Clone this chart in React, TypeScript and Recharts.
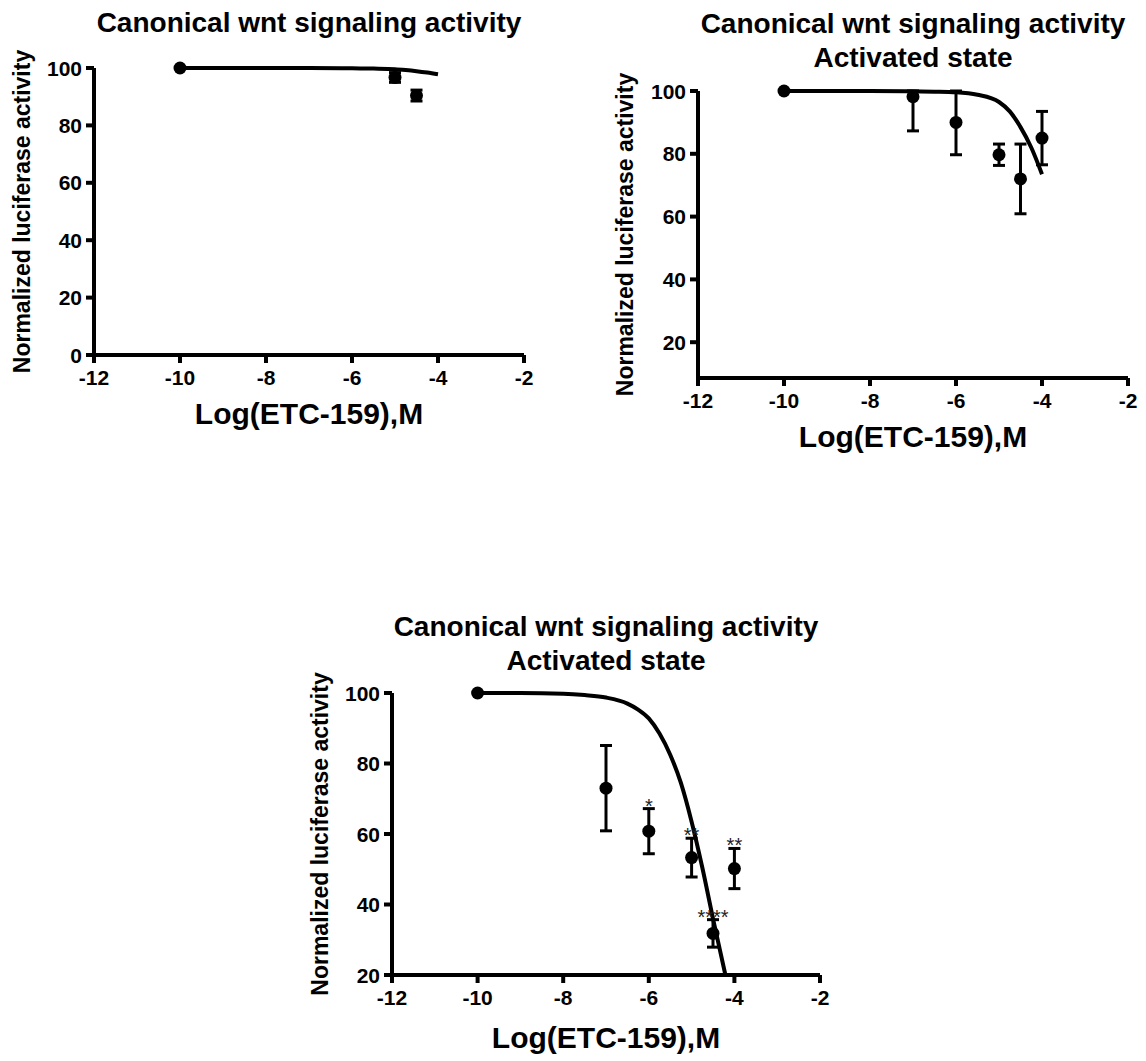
import { ComposedChart, Line, Scatter, XAxis, YAxis, ErrorBar, Label } from 'recharts';

const FONT = '"Liberation Sans", Arial, Helvetica, sans-serif';

const xTicks = [-12, -10, -8, -6, -4, -2];
const xLabel = 'Log(ETC-159),M';
const yLabel = 'Normalized luciferase activity';
const titleMain = 'Canonical wnt signaling activity';
const titleSub = 'Activated state';

// panel 1 – basal state
const basalDose = [-10, -5, -4.5];
const basalMean = [100, 96.7, 90.4];
const basalErr = [0, 1.7, 1.9];
const basalFitDose = [-10, -9, -8, -7, -6, -5.5, -5, -4.75, -4.5, -4.25, -4];
const basalFitValue = [100, 100, 100, 100, 99.9, 99.8, 99.6, 99.3, 98.9, 98.4, 97.8];

// panel 2 – activated state
const actDose = [-10, -7, -6, -5, -4.5, -4];
const actMean = [100, 98.2, 90, 79.7, 72, 85];
const actErrLow = [0, 10.9, 10.3, 3.4, 11.1, 8.5];
const actErrHigh = [0, 1.8, 10, 3.4, 11.1, 8.5];
const actFitDose = [-10, -9, -8, -7, -6.5, -6, -5.5, -5, -4.75, -4.5, -4.25, -4];
const actFitValue = [100, 100, 100, 99.9, 99.8, 99.6, 98.8, 96.5, 93.5, 88.5, 82, 73.5];

// panel 3 – activated state, second experiment
const inhDose = [-10, -7, -6, -5, -4.5, -4];
const inhMean = [100, 73, 60.8, 53.3, 31.8, 50.2];
const inhErr = [0, 12.1, 6.4, 5.5, 3.9, 5.7];
const inhSig = ['', '', '*', '**', '****', '**'];
const inhFitDose = [-10, -9, -8, -7.5, -7, -6.5, -6.25, -6, -5.75, -5.5, -5.25, -5, -4.75, -4.5, -4.21];
const inhFitValue = [100, 100, 99.8, 99.4, 98.7, 97, 95.3, 92.8, 88.5, 82.5, 74.5, 63.5, 50.5, 36, 20];

const toLine = (xs: number[], ys: number[]) => xs.map((x, i) => ({ x, y: ys[i] }));

const basalPoints = basalDose.map((x, i) => ({ x, y: basalMean[i], err: basalErr[i] }));
const actPoints = actDose.map((x, i) => ({ x, y: actMean[i], err: [actErrLow[i], actErrHigh[i]] }));
const inhPoints = inhDose.map((x, i) => ({ x, y: inhMean[i], err: inhErr[i] }));
const inhStars = inhDose
  .map((x, i) => ({ x, y: inhMean[i] + inhErr[i], sig: inhSig[i] }))
  .filter((d) => d.sig);

const Dot = (p: any) => <circle cx={p.cx} cy={p.cy} r={6.5} fill="#000" />;
const Star = (p: any) => (
  <text x={p.cx} y={p.cy + 4} textAnchor="middle" fontSize={20} fill="#222" fontFamily={FONT}>
    {p.payload.sig}
  </text>
);

// tick text drawn by hand so the size sticks
const XTick = (p: any) => (
  <text x={p.x} y={p.y} dy={16} textAnchor="middle" fontSize={21} fontWeight="bold" fill="#000" fontFamily={FONT}>
    {p.payload.value}
  </text>
);
const YTick = (p: any) => (
  <text x={p.x} y={p.y} dy={7.5} textAnchor="end" fontSize={21} fontWeight="bold" fill="#000" fontFamily={FONT}>
    {p.payload.value}
  </text>
);

const axisStroke = { stroke: '#000', strokeWidth: 4 };

function Title({ lines, cx, top }: { lines: string[]; cx: number; top: number }) {
  return (
    <div
      style={{
        position: 'absolute',
        left: cx - 300,
        top,
        width: 600,
        textAlign: 'center',
        fontFamily: FONT,
        fontWeight: 'bold',
        fontSize: 28,
        lineHeight: '34px',
        color: '#000',
      }}
    >
      {lines.map((l) => (
        <div key={l}>{l}</div>
      ))}
    </div>
  );
}

interface PanelProps {
  left: number;
  top: number;
  width: number;
  height: number;
  marginTop: number;
  marginRight: number;
  yAxisWidth: number;
  xAxisHeight: number;
  yLabelOffset: number;
  xLabelOffset: number;
  yDomain: [number, number];
  yTicks: number[];
  fit: { x: number; y: number }[];
  points: any[];
  stars?: any[];
}

function DosePanel(props: PanelProps) {
  const { left, top, width, height, marginTop, marginRight, yAxisWidth, xAxisHeight } = props;
  return (
    <div style={{ position: 'absolute', left, top, width, height }}>
      <ComposedChart width={width} height={height} margin={{ top: marginTop, right: marginRight, left: 0, bottom: 0 }}>
        <XAxis
          type="number"
          dataKey="x"
          domain={[-12, -2]}
          ticks={xTicks}
          interval={0}
          height={xAxisHeight}
          tickSize={8}
          tickMargin={6}
          axisLine={axisStroke}
          tickLine={axisStroke}
          tick={<XTick />}
        >
          <Label
            value={xLabel}
            position="insideBottom"
            offset={props.xLabelOffset}
            fontSize={30}
            style={{ fontSize: 30, fontWeight: 'bold', fill: '#000', fontFamily: FONT }}
          />
        </XAxis>
        <YAxis
          type="number"
          dataKey="y"
          domain={props.yDomain}
          ticks={props.yTicks}
          interval={0}
          width={yAxisWidth}
          tickSize={8}
          tickMargin={4}
          axisLine={axisStroke}
          tickLine={axisStroke}
          tick={<YTick />}
        >
          <Label
            value={yLabel}
            position="insideLeft"
            angle={-90}
            offset={props.yLabelOffset}
            fontSize={23}
            style={{ fontSize: 23, fontWeight: 'bold', fill: '#000', fontFamily: FONT, textAnchor: 'middle' }}
          />
        </YAxis>
        <Line
          data={props.fit}
          dataKey="y"
          type="monotone"
          stroke="#000"
          strokeWidth={4}
          dot={false}
          activeDot={false}
          isAnimationActive={false}
        />
        <Scatter data={props.points} dataKey="y" shape={Dot} isAnimationActive={false}>
          <ErrorBar dataKey="err" direction="y" width={6} strokeWidth={3} stroke="#000" />
        </Scatter>
        {props.stars && <Scatter data={props.stars} dataKey="y" shape={Star} isAnimationActive={false} />}
      </ComposedChart>
    </div>
  );
}

export default function App() {
  return (
    <div style={{ position: 'absolute', left: 0, top: 0, width: 1146, height: 1061, background: '#fff' }}>
      <Title lines={[titleMain]} cx={309} top={6} />
      <DosePanel
        left={0}
        top={0}
        width={560}
        height={450}
        marginTop={68}
        marginRight={36}
        yAxisWidth={94}
        xAxisHeight={95}
        yLabelOffset={22}
        xLabelOffset={26}
        yDomain={[0, 100]}
        yTicks={[0, 20, 40, 60, 80, 100]}
        fit={toLine(basalFitDose, basalFitValue)}
        points={basalPoints}
      />

      <Title lines={[titleMain, titleSub]} cx={913} top={7} />
      <DosePanel
        left={580}
        top={0}
        width={566}
        height={473}
        marginTop={91}
        marginRight={18}
        yAxisWidth={118}
        xAxisHeight={95}
        yLabelOffset={45}
        xLabelOffset={26}
        yDomain={[8.6, 100]}
        yTicks={[20, 40, 60, 80, 100]}
        fit={toLine(actFitDose, actFitValue)}
        points={actPoints}
      />

      <Title lines={[titleMain, titleSub]} cx={606} top={610} />
      <DosePanel
        left={300}
        top={600}
        width={560}
        height={461}
        marginTop={93}
        marginRight={40}
        yAxisWidth={92}
        xAxisHeight={86}
        yLabelOffset={20}
        xLabelOffset={13}
        yDomain={[20, 100]}
        yTicks={[20, 40, 60, 80, 100]}
        fit={toLine(inhFitDose, inhFitValue)}
        points={inhPoints}
        stars={inhStars}
      />
    </div>
  );
}
